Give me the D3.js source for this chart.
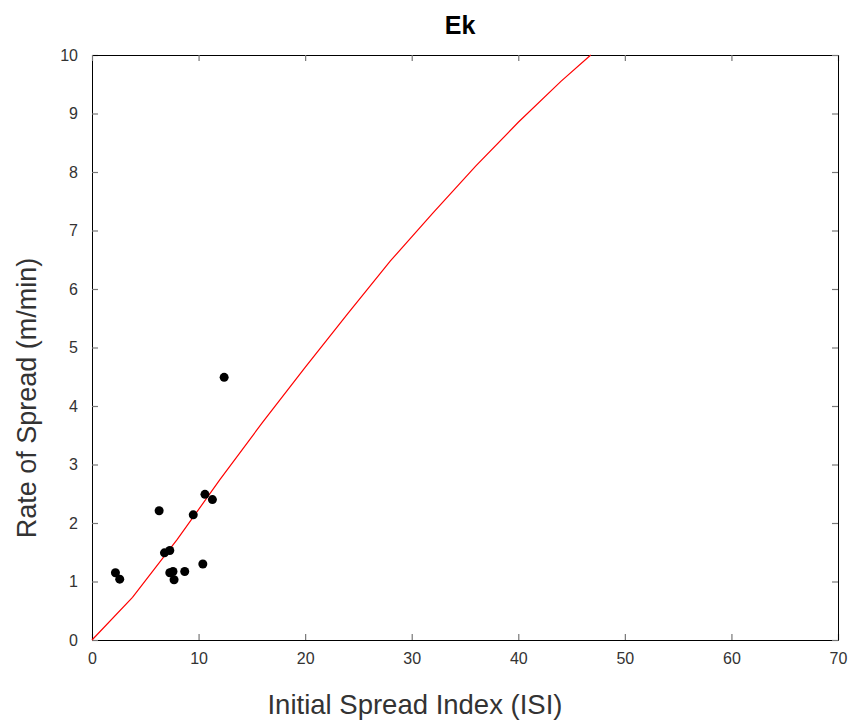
<!DOCTYPE html>
<html>
<head>
<meta charset="utf-8">
<script src="https://cdn.jsdelivr.net/npm/d3@7"></script>
<style>
  body { margin: 0; background: #fff; }
  text { font-family: "Liberation Sans", Arial, sans-serif; }
</style>
</head>
<body>
<div id="chart"></div>
<script>
// observed points (ISI, ROS)
var obsISI = [2.2, 2.6, 6.3, 6.8, 7.3, 7.3, 7.6, 7.7, 8.7, 9.5, 10.4, 10.6, 11.3, 12.4];
var obsROS = [1.15, 1.04, 2.21, 1.49, 1.53, 1.15, 1.17, 1.03, 1.17, 2.14, 1.30, 2.49, 2.40, 4.49];

// model curve
var curveISI = [0, 3.8, 8, 12, 16, 20, 24, 28, 32, 36, 40, 44, 46.8];
var curveROS = [0, 0.73, 1.72, 2.74, 3.72, 4.66, 5.58, 6.48, 7.3, 8.1, 8.85, 9.55, 10.0];

var xTicks = [0, 10, 20, 30, 40, 50, 60, 70];
var yTicks = [0, 1, 2, 3, 4, 5, 6, 7, 8, 9, 10];

var W = 848, H = 727;
var margin = {top: 55, right: 10, bottom: 87, left: 92};
var width = W - margin.left - margin.right;
var height = H - margin.top - margin.bottom;

var svg = d3.select("#chart").append("svg")
    .attr("width", W)
    .attr("height", H);

var g = svg.append("g")
    .attr("transform", "translate(" + margin.left + "," + margin.top + ")");

var x = d3.scaleLinear().domain([0, 70]).range([0, width]);
var y = d3.scaleLinear().domain([0, 10]).range([height, 0]);

// axes with inward ticks
g.append("g")
    .attr("class", "xaxis")
    .attr("transform", "translate(0," + height + ")")
    .call(d3.axisBottom(x).tickValues(xTicks).tickSizeInner(-6).tickSizeOuter(0).tickPadding(13));
g.append("g")
    .attr("class", "yaxis")
    .call(d3.axisLeft(y).tickValues(yTicks).tickSizeInner(-6).tickSizeOuter(0).tickPadding(14));
// mirrored ticks on top and right
g.append("g")
    .attr("class", "xaxis2")
    .call(d3.axisTop(x).tickValues(xTicks).tickSizeInner(-6).tickSizeOuter(0).tickFormat(""));
g.append("g")
    .attr("class", "yaxis2")
    .attr("transform", "translate(" + width + ",0)")
    .call(d3.axisRight(y).tickValues(yTicks).tickSizeInner(-6).tickSizeOuter(0).tickFormat(""));

g.selectAll(".domain").attr("stroke", "#000").attr("stroke-width", 1);
g.selectAll(".tick line").attr("stroke", "#777").attr("stroke-width", 1.2);
g.selectAll(".tick text")
    .attr("font-size", 16)
    .attr("fill", "#333")
    .attr("font-family", "Liberation Sans, Arial, sans-serif");

// curve
var line = d3.line()
    .x(function (d) { return x(d[0]); })
    .y(function (d) { return y(d[1]); });

g.append("path")
    .datum(curveISI.map(function (v, i) { return [v, curveROS[i]]; }))
    .attr("d", line)
    .attr("fill", "none")
    .attr("stroke", "#ff0000")
    .attr("stroke-width", 1.2);

// observations
g.selectAll("circle.obs")
    .data(obsISI.map(function (v, i) { return [v, obsROS[i]]; }))
    .enter().append("circle")
    .attr("class", "obs")
    .attr("cx", function (d) { return x(d[0]); })
    .attr("cy", function (d) { return y(d[1]); })
    .attr("r", 4.5)
    .attr("fill", "#000");

// title and labels
svg.append("text")
    .attr("x", 460)
    .attr("y", 34)
    .attr("text-anchor", "middle")
    .attr("font-size", 25)
    .attr("font-weight", "bold")
    .attr("fill", "#000")
    .text("Ek");

svg.append("text")
    .attr("x", 415)
    .attr("y", 714)
    .attr("text-anchor", "middle")
    .attr("font-size", 27.5)
    .attr("fill", "#333")
    .text("Initial Spread Index (ISI)");

svg.append("text")
    .attr("transform", "translate(36,398) rotate(-90)")
    .attr("text-anchor", "middle")
    .attr("font-size", 27)
    .attr("fill", "#333")
    .text("Rate of Spread (m/min)");
</script>
</body>
</html>
